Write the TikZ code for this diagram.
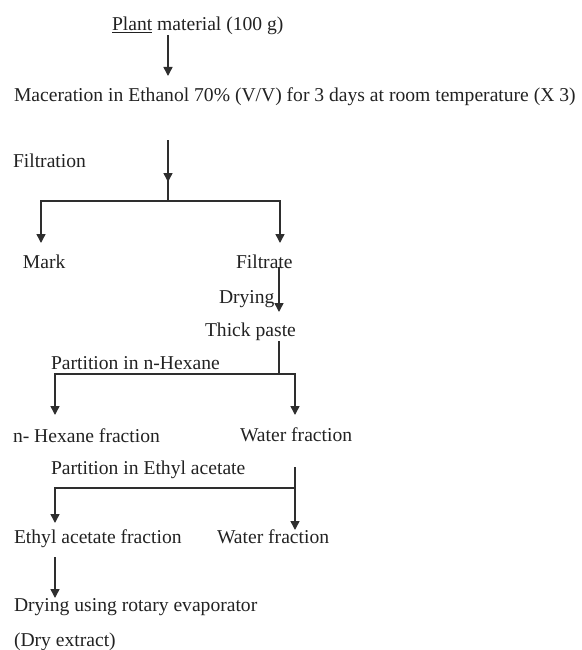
\documentclass[tikz,border=0pt]{standalone}
\usepackage{fontspec}
\setmainfont{Liberation Serif}
\usetikzlibrary{arrows.meta}
\definecolor{ink}{HTML}{222222}
\definecolor{lineink}{HTML}{2E2E2E}
\begin{document}
\begin{tikzpicture}[x=1pt,y=-1pt,
  lbl/.style={anchor=base west,inner sep=0pt,outer sep=0pt,text=ink,
    font=\fontsize{19.6}{24}\selectfont},
  ln/.style={draw=lineink,line width=1.5pt,line join=miter},
  arr/.style={ln,-{Triangle[length=9pt,width=9pt]}}]
\useasboundingbox (0,0) rectangle (581,650);
% texts
\node[lbl] (plant) at (112,31) {\underline{Plant} material (100 g)};
\node[lbl] (mac) at (14,102) {Maceration in Ethanol 70\% (V/V) for 3 days at room temperature (X 3)};
\node[lbl] (filtration) at (13,167) {Filtration};
\node[lbl] (mark) at (23,268) {Mark};
\node[lbl] (filtrate) at (236,268) {Filtrate};
\node[lbl] (drying) at (219,303) {Drying};
\node[lbl] (paste) at (205,336) {Thick paste};
\node[lbl] (parthex) at (51,369) {Partition in n-Hexane};
\node[lbl] (hexfrac) at (13,442) {n- Hexane fraction};
\node[lbl] (water1) at (240,441) {Water fraction};
\node[lbl] (partea) at (51,474) {Partition in Ethyl acetate};
\node[lbl] (eafrac) at (14,543) {Ethyl acetate fraction};
\node[lbl] (water2) at (217,543) {Water fraction};
\node[lbl] (rotary) at (14,611) {Drying using rotary evaporator};
\node[lbl] (dry) at (14,646) {(Dry extract)};
% junction coordinates
\coordinate (a1s) at (168,35);  \coordinate (a1e) at (168,76);
\coordinate (a2s) at (168,140); \coordinate (a2e) at (168,182);
\coordinate (j1) at (168,201);
\coordinate (markin) at (41,243); \coordinate (filtin) at (280,243);
\coordinate (fs) at (279,267);  \coordinate (fe) at (279,312);
\coordinate (ps) at (279,341);  \coordinate (j2) at (279,374);
\coordinate (hexin) at (55,415); \coordinate (w1in) at (295,415);
\coordinate (ws) at (295,467);  \coordinate (j3) at (295,488);
\coordinate (w2in) at (295,530);
\coordinate (eain) at (55,523);
\coordinate (es) at (55,557);   \coordinate (ee) at (55,598);
% connectors
\draw[arr] (a1s) -- (a1e);
\draw[ln] (a2s) -- (j1);
\draw[arr] (a2s) -- (a2e);
\draw[arr] (j1) -| (markin);
\draw[arr] (j1) -| (filtin);
\draw[arr] (fs) -- (fe);
\draw[ln] (ps) -- (j2);
\draw[arr] (j2) -| (hexin);
\draw[arr] (j2) -| (w1in);
\draw[arr] (ws) -- (w2in);
\draw[arr] (j3) -| (eain);
\draw[arr] (es) -- (ee);
\end{tikzpicture}
\end{document}
